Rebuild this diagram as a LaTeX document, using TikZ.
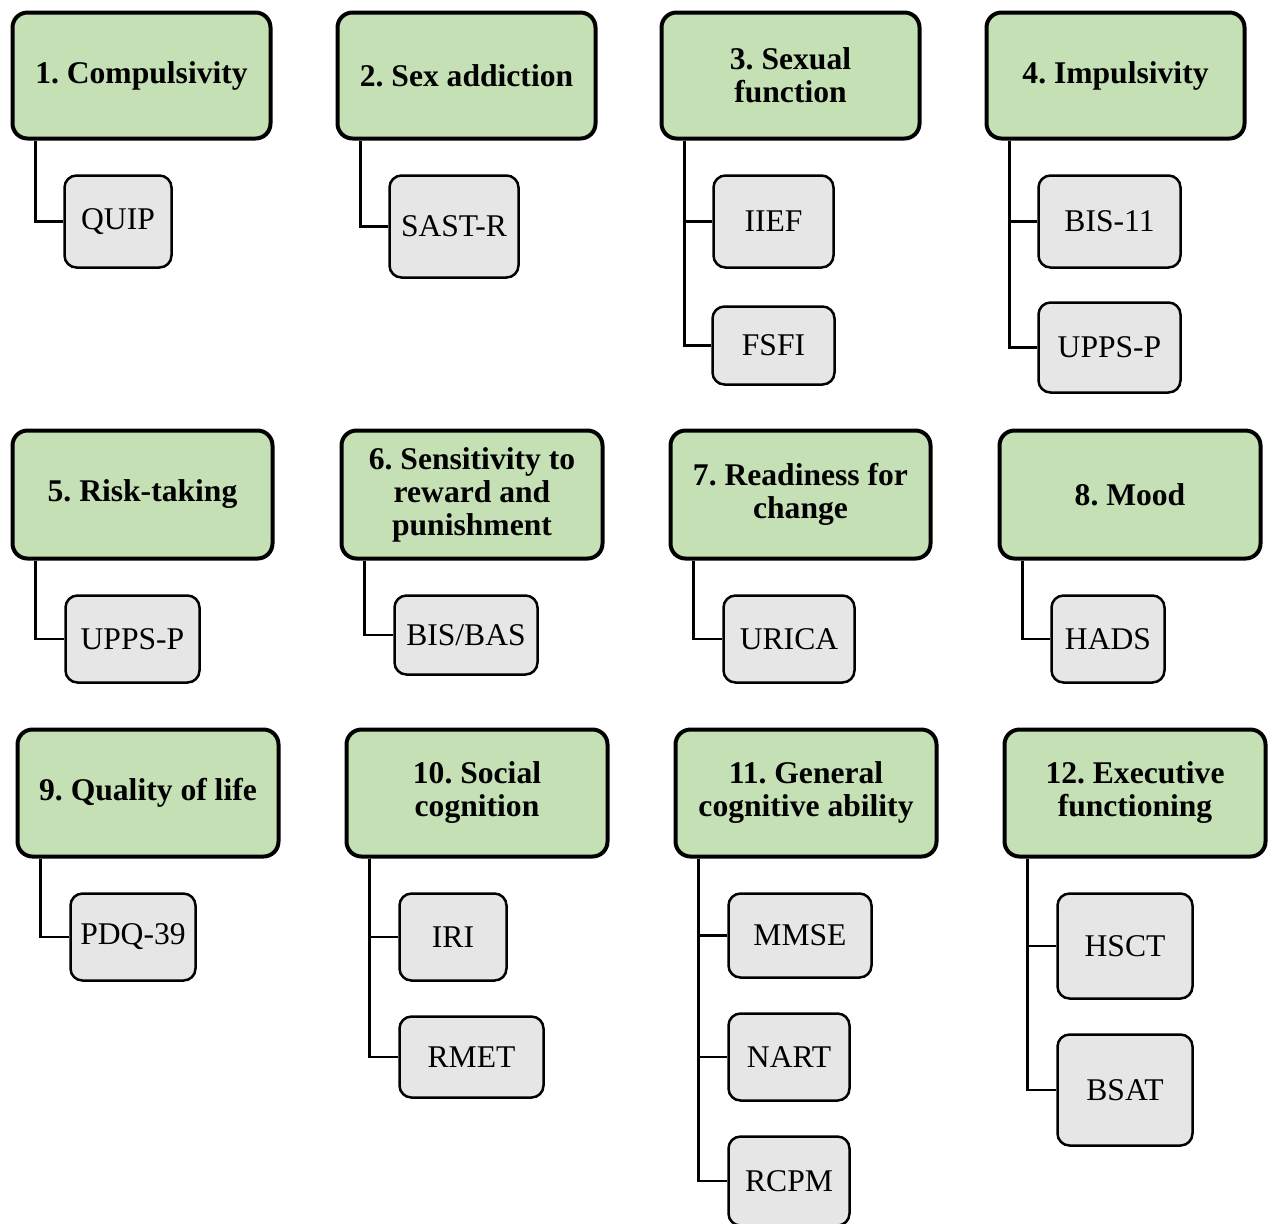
\documentclass[tikz,border=0pt]{standalone}
\usepackage{fontspec}
\setmainfont{Liberation Serif}
\usetikzlibrary{backgrounds}
\frenchspacing
\definecolor{catgreen}{HTML}{C5E0B4}
\definecolor{testgray}{HTML}{E7E6E6}
\tikzset{
  catbox/.style={draw=black, line width=2pt, fill=catgreen, rounded corners=7.5pt,
    align=center, inner sep=0pt,
    font=\fontsize{15.8}{16.5}\selectfont\bfseries},
  testbox/.style={draw=black, line width=1.25pt, fill=testgray, rounded corners=6pt,
    align=center, inner sep=0pt,
    font=\fontsize{15.8}{16.5}\selectfont},
  link/.style={draw=black, line width=1.25pt},
  trunk/.style={xshift=12.5pt}
}
% \placebox{style}{name}{x1}{y1}{x2}{y2}{text}
\newcommand{\placebox}[7]{%
  \node[#1, minimum width={(#5-#3-3)*0.5pt}, minimum height={(#6-#4-3)*0.5pt}]
    (#2) at ({(#3+#5)/2},{(#4+#6)/2}) {#7};}
\begin{document}
\begin{tikzpicture}[x=0.5pt,y=-0.5pt]
\useasboundingbox (0,0) rectangle (1268,1223);

% domain boxes
\placebox{catbox}{g1}{11}{11}{272}{140}{1. Compulsivity}
\placebox{catbox}{g2}{336}{11}{597}{140}{2. Sex addiction}
\placebox{catbox}{g3}{660}{11}{921}{140}{3. Sexual\\function}
\placebox{catbox}{g4}{985}{11}{1246}{140}{4. Impulsivity}
\placebox{catbox}{g5}{11}{429}{274}{560}{5. Risk-taking}
\placebox{catbox}{g6}{340}{429}{604}{560}{6. Sensitivity to\\reward and\\punishment}
\placebox{catbox}{g7}{669}{429}{932}{560}{7. Readiness for\\change}
\placebox{catbox}{g8}{998}{429}{1262}{560}{8. Mood}
\placebox{catbox}{g9}{16}{728}{280}{858}{9. Quality of life}
\placebox{catbox}{g10}{345}{728}{609}{858}{10. Social\\cognition}
\placebox{catbox}{g11}{674}{728}{938}{858}{11. General\\cognitive ability}
\placebox{catbox}{g12}{1003}{728}{1267}{858}{12. Executive\\functioning}

% instruments
\placebox{testbox}{t1}{63}{174}{173}{269}{QUIP}
\placebox{testbox}{t2}{388}{174}{520}{279}{SAST-R}
\placebox{testbox}{t3a}{712}{174}{835}{269}{IIEF}
\placebox{testbox}{t3b}{711}{305}{836}{386}{FSFI}
\placebox{testbox}{t4a}{1037}{174}{1182}{269}{BIS-11}
\placebox{testbox}{t4b}{1037}{301}{1182}{394}{UPPS-P}
\placebox{testbox}{t5}{64}{594}{201}{684}{UPPS-P}
\placebox{testbox}{t6}{393}{594}{539}{676}{BIS/BAS}
\placebox{testbox}{t7}{722}{594}{856}{684}{URICA}
\placebox{testbox}{t8}{1050}{594}{1166}{684}{HADS}
\placebox{testbox}{t9}{69}{892}{197}{982}{PDQ-39}
\placebox{testbox}{t10a}{398}{892}{508}{982}{IRI}
\placebox{testbox}{t10b}{398}{1015}{545}{1099}{RMET}
\placebox{testbox}{t11a}{727}{892}{873}{979}{MMSE}
\placebox{testbox}{t11b}{727}{1012}{851}{1102}{NART}
\placebox{testbox}{t11c}{727}{1135}{851}{1227}{RCPM}
\placebox{testbox}{t12a}{1056}{892}{1194}{1000}{HSCT}
\placebox{testbox}{t12b}{1056}{1033}{1194}{1147}{BSAT}

% elbow connectors
\begin{scope}[on background layer]
  \draw[link] ([trunk]g1.south west) |- (t1.west);
  \draw[link] ([trunk]g2.south west) |- (t2.west);
  \draw[link] ([trunk]g3.south west) |- (t3a.west);
  \draw[link] ([trunk]g3.south west) |- (t3b.west);
  \draw[link] ([trunk]g4.south west) |- (t4a.west);
  \draw[link] ([trunk]g4.south west) |- (t4b.west);
  \draw[link] ([trunk]g5.south west) |- (t5.west);
  \draw[link] ([trunk]g6.south west) |- (t6.west);
  \draw[link] ([trunk]g7.south west) |- (t7.west);
  \draw[link] ([trunk]g8.south west) |- (t8.west);
  \draw[link] ([trunk]g9.south west) |- (t9.west);
  \draw[link] ([trunk]g10.south west) |- (t10a.west);
  \draw[link] ([trunk]g10.south west) |- (t10b.west);
  \draw[link] ([trunk]g11.south west) |- (t11a.west);
  \draw[link] ([trunk]g11.south west) |- (t11b.west);
  \draw[link] ([trunk]g11.south west) |- (t11c.west);
  \draw[link] ([trunk]g12.south west) |- (t12a.west);
  \draw[link] ([trunk]g12.south west) |- (t12b.west);
\end{scope}
\end{tikzpicture}
\end{document}
